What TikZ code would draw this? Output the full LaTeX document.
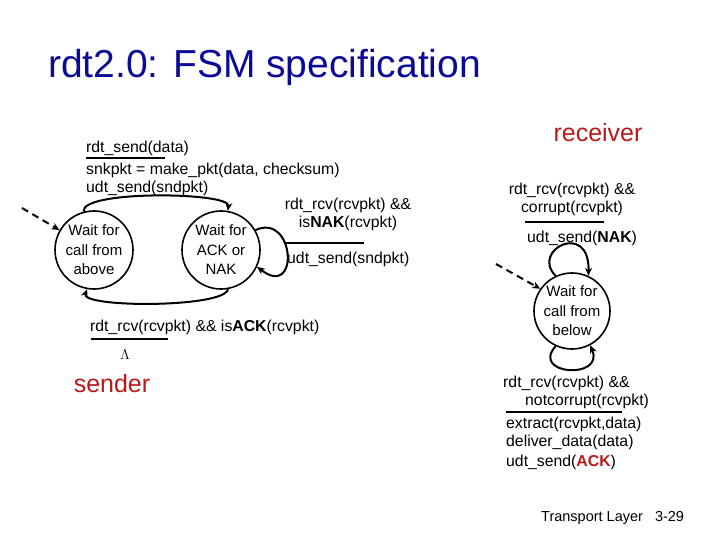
\documentclass[tikz,border=0pt]{standalone}
\usepackage{fontspec}
\setmainfont{Liberation Sans}
\usetikzlibrary{arrows.meta}
\definecolor{ttl}{RGB}{10,10,150}
\definecolor{red1}{RGB}{185,25,25}
\begin{document}
\begin{tikzpicture}[x=1pt,y=-1pt,
  st/.style={draw,circle,line width=1.6pt,minimum size=78pt,inner sep=0pt,align=center,font=\fontsize{15}{19.5}\selectfont},
  lbl/.style={inner sep=0pt,font=\fontsize{15.8}{18}\selectfont},
  tr/.style={line width=2pt,-{Stealth[length=8pt,width=7pt]}},
  init/.style={line width=2pt,dash pattern=on 7pt off 5pt,-{Stealth[length=8pt,width=7pt]}},
  bar/.style={line width=1.2pt}]
\useasboundingbox (0,0) rectangle (720,540);
\node[anchor=base west,inner sep=0pt,text=ttl,font=\fontsize{39}{42}\selectfont] (title) at (48,78) {rdt2.0: FSM specification};
\node[st] (s1) at (94,250) {Wait for\\call from\\above};
\node[st] (s2) at (221,250) {Wait for\\ACK or\\NAK};
\node[st,minimum size=76pt] (r1) at (572,311) {Wait for\\call from\\below};
% sender labels
\node[lbl,anchor=base west] (l1) at (86,153) {rdt\_send(data)};
\node[lbl,anchor=base west] (l2) at (86,175) {snkpkt = make\_pkt(data, checksum)};
\node[lbl,anchor=base west] (l3) at (86,193) {udt\_send(sndpkt)};
\draw[bar] (86,158) -- (165,158);
\node[lbl,anchor=base] (n1) at (348,210) {rdt\_rcv(rcvpkt) \&\&};
\node[lbl,anchor=base] (n2) at (348,228) {is\textbf{NAK}(rcvpkt)};
\draw[bar] (286,243) -- (364,243);
\node[lbl,anchor=base west] (n3) at (287,263) {udt\_send(sndpkt)};
\node[lbl,anchor=base west] (a1) at (90,331) {rdt\_rcv(rcvpkt) \&\& is\textbf{ACK}(rcvpkt)};
\draw[bar] (91,339) -- (168,339);
\node[lbl,anchor=base] (lam) at (125,359) {$\Lambda$};
\node[anchor=base,inner sep=0pt,text=red1,font=\fontsize{25}{28}\selectfont] (snd) at (112,392) {sender};
\node[anchor=base,inner sep=0pt,text=red1,font=\fontsize{25}{28}\selectfont] (rcv) at (598,142) {receiver};
% receiver labels
\node[lbl,anchor=base] (c1) at (572,195) {rdt\_rcv(rcvpkt) \&\&};
\node[lbl,anchor=base] (c2) at (572,213) {corrupt(rcvpkt)};
\draw[bar] (525,222) -- (604,222);
\node[lbl,anchor=base west] (c3) at (527,243) {udt\_send(\textbf{NAK})};
\node[lbl,anchor=base west] (d1) at (503,387) {rdt\_rcv(rcvpkt) \&\&};
\node[lbl,anchor=base west] (d2) at (525,405) {notcorrupt(rcvpkt)};
\draw[bar] (506,412) -- (622,412);
\node[lbl,anchor=base west] (d3) at (506,428) {extract(rcvpkt,data)};
\node[lbl,anchor=base west] (d4) at (506,446) {deliver\_data(data)};
\node[lbl,anchor=base west] (d5) at (506,466) {udt\_send(\textcolor{red1}{\textbf{ACK}})};
\node[anchor=base west,inner sep=0pt,font=\fontsize{14.5}{16}\selectfont] (ft) at (541,521) {Transport Layer\hspace{12pt}3-29};
% transitions
\coordinate (i1) at (22,208);
\coordinate (i2) at (496,264);
\draw[init] (i1) -- (s1.150);
\draw[init] (i2) -- (r1.145);
\draw[tr] (s1.105) .. controls (80,190) and (230,192) .. (s2.80);
\draw[tr] (s2.-80) .. controls (225,308) and (80,308) .. (s1.-100);
\draw[tr] (s2.30) .. controls (295,212) and (300,300) .. (s2.-25);
\draw[tr] (r1.115) .. controls (530,250) and (590,220) .. (r1.65);
\draw[tr] (r1.-115) .. controls (530,375) and (605,380) .. (r1.-62);
\end{tikzpicture}
\end{document}
